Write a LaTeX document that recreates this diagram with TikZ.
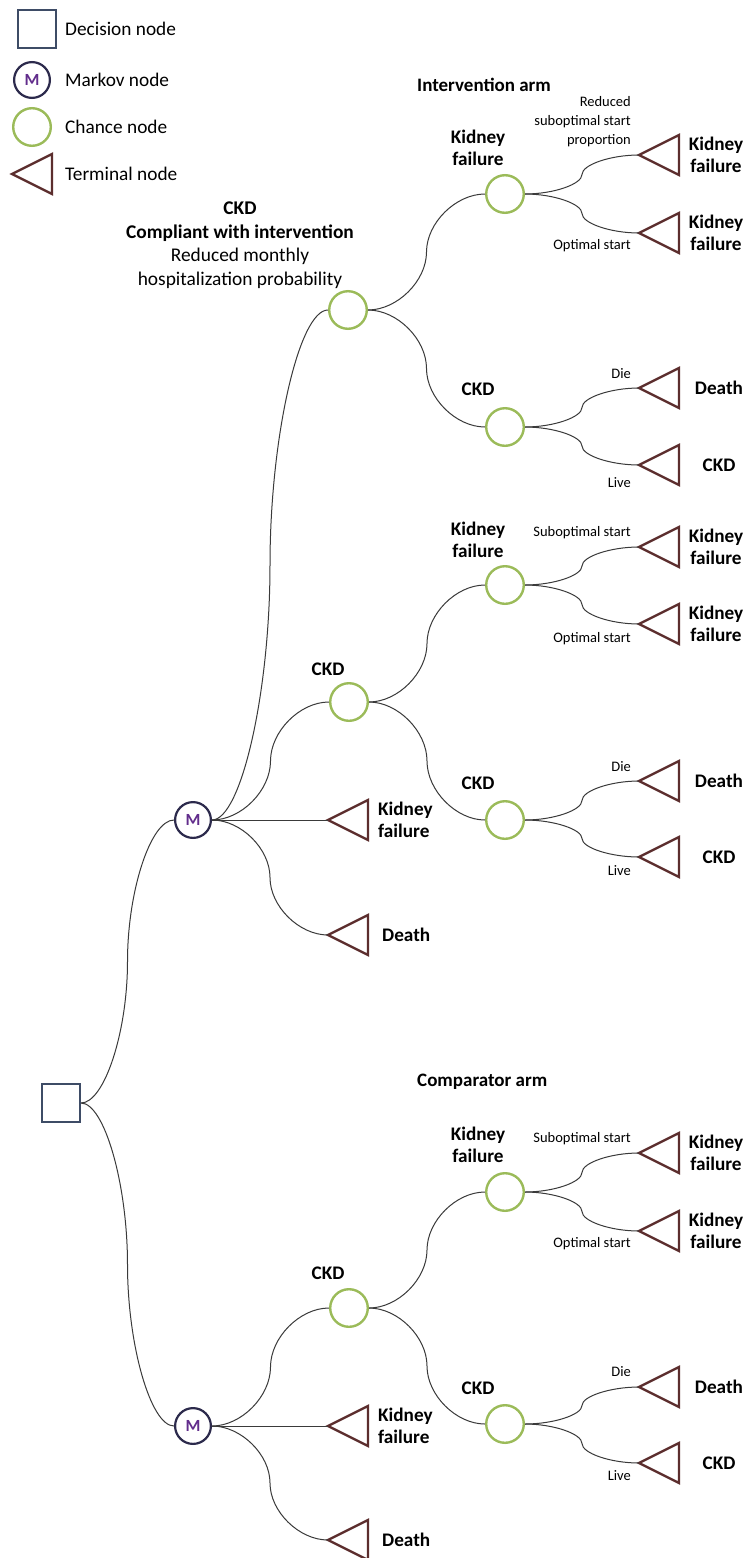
\documentclass[tikz,border=0pt]{standalone}
\usepackage{fontspec}
\setmainfont{Carlito}
\usetikzlibrary{calc}
\definecolor{decC}{HTML}{3E4C66}
\definecolor{mkvC}{HTML}{2C2A4C}
\definecolor{mtxt}{HTML}{622D8C}
\definecolor{chC}{HTML}{9BBB59}
\definecolor{trmC}{HTML}{5C2E2E}
\definecolor{lnC}{HTML}{3A3A3A}
\tikzset{
 decision/.style={draw=decC, line width=2.4pt, minimum size=37.6pt, inner sep=0pt, fill=white},
 markov/.style={circle, draw=mkvC, line width=2.2pt, minimum size=35.8pt, inner sep=0pt, font=\fontsize{17}{17}\selectfont\bfseries, text=mtxt, fill=white},
 chance/.style={circle, draw=chC, line width=2.4pt, minimum size=37.6pt, inner sep=0pt, fill=white},
 termshape/.style={draw=trmC, line width=2.4pt, line join=miter},
 conn/.style={draw=lnC, line width=1pt},
 bl/.style={font=\fontsize{19.2}{22}\selectfont\bfseries, align=center, inner sep=0pt},
 blw/.style={font=\fontsize{19.2}{22}\selectfont\bfseries, align=left, inner sep=0pt, anchor=west},
 sm/.style={font=\fontsize{14.5}{19}\selectfont, align=right, inner sep=0pt, anchor=east},
 lg/.style={font=\fontsize{19.3}{22}\selectfont, inner sep=0pt, anchor=west},
 hdr/.style={font=\fontsize{19}{22}\selectfont\bfseries, inner sep=0pt, anchor=west},
}
\newcommand\term[2]{\coordinate (#1) at #2; \draw[termshape] (#1) -- ++(40,-20) -- ++(0,40) -- cycle;}
\newcommand\conn[2]{\draw[conn] let \p1=(#1), \p2=(#2) in (\p1) .. controls ({0.75*\x1+0.25*\x2},\y1) and ({0.5*\x1+0.5*\x2},{0.75*\y1+0.25*\y2}) .. ({0.5*\x1+0.5*\x2},{0.5*\y1+0.5*\y2}) .. controls ({0.5*\x1+0.5*\x2},{0.25*\y1+0.75*\y2}) and ({0.25*\x1+0.75*\x2},\y2) .. (\p2);}
\begin{document}
\begin{tikzpicture}[x=1pt,y=-1pt]
\useasboundingbox[fill=white] (0,0) rectangle (746,1558);
% legend
\node[decision] (lgD) at (37,29) {};
\node[lg] (lgDt) at (65,29) {Decision node};
\node[markov] (lgM) at (32,80) {M};
\node[lg] (lgMt) at (65,80) {Markov node};
\node[chance] (lgC) at (32,127) {};
\node[lg] (lgCt) at (65,127) {Chance node};
\term{lgT}{(12,174)}
\node[lg] (lgTt) at (65,174) {Terminal node};
% main nodes
\node[decision] (d) at (61,1103) {};
\node[markov] (m1) at (193,820) {M};
\node[markov] (m2) at (193,1426) {M};
\node[chance] (c0) at (348,310) {};
\node[chance] (c1) at (505,194) {};
\node[chance] (c2) at (505,427) {};
\node[chance] (c3) at (349,702) {};
\node[chance] (c4) at (505,585) {};
\node[chance] (c5) at (505,820) {};
\node[chance] (c6) at (349,1308) {};
\node[chance] (c7) at (505,1192) {};
\node[chance] (c8) at (505,1424) {};
\term{t1}{(639,155)}
\term{t2}{(639,233)}
\term{t3}{(639,388)}
\term{t4}{(639,465)}
\term{t5}{(639,547)}
\term{t6}{(639,624)}
\term{t7}{(639,781)}
\term{t8}{(639,857)}
\term{t9}{(328,820)}
\term{t10}{(328,935)}
\term{t11}{(639,1153)}
\term{t12}{(639,1231)}
\term{t13}{(639,1387)}
\term{t14}{(639,1463)}
\term{t15}{(328,1426)}
\term{t16}{(328,1540)}
% connectors
\conn{d.east}{m1.west}
\conn{d.east}{m2.west}
\conn{m1.east}{c0.west}
\conn{m1.east}{c3.west}
\conn{m1.east}{t9}
\conn{m1.east}{t10}
\conn{c0.east}{c1.west}
\conn{c0.east}{c2.west}
\conn{c1.east}{t1}
\conn{c1.east}{t2}
\conn{c2.east}{t3}
\conn{c2.east}{t4}
\conn{c3.east}{c4.west}
\conn{c3.east}{c5.west}
\conn{c4.east}{t5}
\conn{c4.east}{t6}
\conn{c5.east}{t7}
\conn{c5.east}{t8}
\conn{m2.east}{c6.west}
\conn{m2.east}{t15}
\conn{m2.east}{t16}
\conn{c6.east}{c7.west}
\conn{c6.east}{c8.west}
\conn{c7.east}{t11}
\conn{c7.east}{t12}
\conn{c8.east}{t13}
\conn{c8.east}{t14}
% headers
\node[hdr] (h1) at (417,85) {Intervention arm};
\node[hdr] (h2) at (417,1082) {Comparator arm};
% title above c0
\node[font=\fontsize{19.4}{23.5}\selectfont, align=center, inner sep=0pt] (ttl) at (240,245) {\textbf{CKD}\\\textbf{Compliant with intervention}\\Reduced monthly\\hospitalization probability};
% chance labels
\node[bl] (l1) at (478,148) {Kidney\\failure};
\node[bl] (l2) at (478,389) {CKD};
\node[bl] (l3) at (328,669) {CKD};
\node[bl] (l4) at (478,540) {Kidney\\failure};
\node[bl] (l5) at (478,783) {CKD};
\node[bl] (l6) at (328,1273) {CKD};
\node[bl] (l7) at (478,1145) {Kidney\\failure};
\node[bl] (l8) at (478,1388) {CKD};
% terminal labels
\node[bl] (e1) at (716,155) {Kidney\\failure};
\node[bl] (e2) at (716,233) {Kidney\\failure};
\node[bl] (e3) at (719,388) {Death};
\node[bl] (e4) at (719,465) {CKD};
\node[bl] (e5) at (716,547) {Kidney\\failure};
\node[bl] (e6) at (716,624) {Kidney\\failure};
\node[bl] (e7) at (719,781) {Death};
\node[bl] (e8) at (719,857) {CKD};
\node[blw] (e9) at (378,820) {Kidney\\failure};
\node[blw] (e10) at (382,935) {Death};
\node[bl] (e11) at (716,1153) {Kidney\\failure};
\node[bl] (e12) at (716,1231) {Kidney\\failure};
\node[bl] (e13) at (719,1387) {Death};
\node[bl] (e14) at (719,1463) {CKD};
\node[blw] (e15) at (378,1426) {Kidney\\failure};
\node[blw] (e16) at (382,1540) {Death};
% branch labels
\node[sm] (b1) at (631,122) {Reduced\\suboptimal start\\proportion};
\node[sm] (b2) at (631,246) {Optimal start};
\node[sm] (b3) at (631,374) {Die};
\node[sm] (b4) at (631,483) {Live};
\node[sm] (b5) at (631,533) {Suboptimal start};
\node[sm] (b6) at (631,639) {Optimal start};
\node[sm] (b7) at (631,767) {Die};
\node[sm] (b8) at (631,871) {Live};
\node[sm] (b9) at (631,1139) {Suboptimal start};
\node[sm] (b10) at (631,1244) {Optimal start};
\node[sm] (b11) at (631,1372) {Die};
\node[sm] (b12) at (631,1476) {Live};
\end{tikzpicture}
\end{document}
